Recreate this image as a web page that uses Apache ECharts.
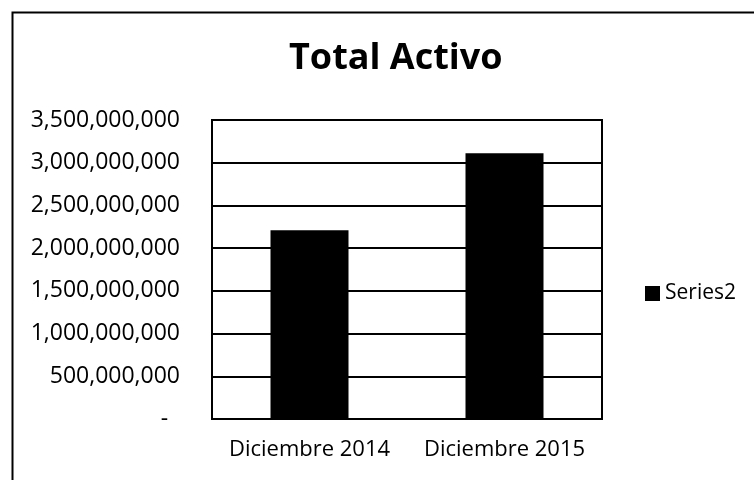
<!DOCTYPE html>
<html>
<head>
<meta charset="utf-8">
<script src="https://cdn.jsdelivr.net/npm/echarts@6/dist/echarts.min.js"></script>
<style>
  html, body { margin: 0; padding: 0; background: #fff; }
  #main { width: 754px; height: 480px; }
</style>
</head>
<body>
<div id="main"></div>
<script>
// 类别（x轴）
var categories = ['Diciembre 2014', 'Diciembre 2015'];
// 数值（Series2）
var values = [2210000000, 3110000000];
// y轴刻度
var yMin = 0;
var yMax = 3500000000;
var yStep = 500000000;

// 千分位格式，0 显示为 "-"（会计格式）
function fmt(v) {
    if (v === 0) return '-  ';
    return String(v).replace(/\B(?=(\d{3})+(?!\d))/g, ',');
}

var myChart = echarts.init(document.getElementById('main'));
var font = 'Open Sans';

var option = {
    backgroundColor: '#fff',
    animation: false,
    title: {
        text: 'Total Activo',
        left: 284,
        top: 36,
        textStyle: { fontFamily: font, fontSize: 36, fontWeight: 'bold', color: '#000' }
    },
    legend: {
        data: ['Series2'],
        left: 640,
        top: 278,
        orient: 'vertical',
        icon: 'rect',
        itemWidth: 15,
        itemHeight: 15,
        itemGap: 5,
        textStyle: { fontFamily: font, fontSize: 21, color: '#000' }
    },
    grid: {
        left: 212,
        right: 152,
        top: 120,
        bottom: 61,
        show: true,
        borderColor: '#000',
        borderWidth: 2
    },
    xAxis: {
        type: 'category',
        data: categories,
        axisTick: { show: false },
        axisLine: { lineStyle: { color: '#000', width: 2 } },
        axisLabel: { fontFamily: font, fontSize: 22, color: '#000', margin: 20, interval: 0, hideOverlap: false }
    },
    yAxis: {
        type: 'value',
        min: yMin,
        max: yMax,
        interval: yStep,
        axisLine: { show: true, lineStyle: { color: '#000', width: 2 } },
        axisTick: { show: false },
        splitLine: { lineStyle: { color: '#000', width: 2 } },
        axisLabel: { fontFamily: font, fontSize: 23, color: '#000', margin: 32, formatter: fmt }
    },
    series: [
        {
            name: 'Series2',
            type: 'bar',
            data: values,
            barCategoryGap: '60%',
            itemStyle: { color: '#000' }
        }
    ],
    graphic: [
        {
            // 外框
            type: 'rect',
            left: 10,
            top: 10,
            shape: { width: 800, height: 520 },
            style: { fill: null, stroke: '#000', lineWidth: 2 },
            z: 100
        }
    ]
};

myChart.setOption(option);
</script>
</body>
</html>
